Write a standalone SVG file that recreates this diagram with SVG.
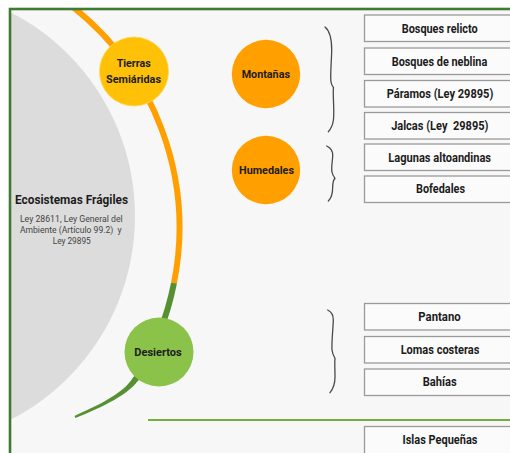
<svg xmlns="http://www.w3.org/2000/svg" width="510" height="453" viewBox="0 0 510 453">
  <style>
    .lbl { font-family: Roboto, "Liberation Sans", sans-serif; font-weight: bold; fill: #1c1c1c; text-anchor: middle; }
    .box rect { fill: #fbfbfb; stroke: #9a9a9a; stroke-width: 1.3; }
    .box text { font-family: Roboto, "Liberation Sans", sans-serif; font-weight: bold; font-size: 12px; fill: #1c1c1c; text-anchor: middle; }
    .sub { font-family: Roboto, "Liberation Sans", sans-serif; font-size: 8.6px; fill: #444; text-anchor: middle; }
    .brace { fill: none; stroke: #4a4a4a; stroke-width: 1.3; stroke-linecap: round; }
  </style>
  <defs>
    <clipPath id="inside"><rect x="10" y="9" width="520" height="470"/></clipPath>
  </defs>
  <rect x="0" y="0" width="510" height="453" fill="#ffffff"/>
  <rect x="10" y="9" width="520" height="470" fill="#f7f7f7"/>

  <g id="ecosistemas">
    <circle cx="-94" cy="216" r="229" fill="#dcdcdc" clip-path="url(#inside)"/>
    <text class="lbl" x="71.5" y="204.3" font-size="13" textLength="113" lengthAdjust="spacingAndGlyphs">Ecosistemas Frágiles</text>
    <text class="sub" x="71.3" y="221.5" textLength="102.7" lengthAdjust="spacingAndGlyphs">Ley 28611, Ley General del</text>
    <text class="sub" x="70.8" y="232.5" textLength="101.7" lengthAdjust="spacingAndGlyphs" xml:space="preserve">Ambiente (Artículo 99.2)  y</text>
    <text class="sub" x="71.7" y="243.5" textLength="38" lengthAdjust="spacingAndGlyphs">Ley 29895</text>
  </g>

  <g id="connectors">
    <path d="M70.5 5 A282.6 282.6 0 0 1 174 283" fill="none" stroke="#ffa000" stroke-width="6" clip-path="url(#inside)"/>
    <path d="M174 283 A282.6 282.6 0 0 1 135.2 380" fill="none" stroke="#559130" stroke-width="6"/>
    <path d="M138.1 380.3 C126.9 397.2 93.6 410.4 75.5 418.1 L74.5 415.9 C92.4 407.6 123.1 394.8 133.2 377.2 Z" fill="#559130"/>
    <path class="brace" d="M325 27 C330 31 331.7 40 331.7 50 C331.5 62 330 76 331 82 C331.5 85 332.5 86.5 333.5 87.5 C333 91 333.3 96 333.6 104 C334 116 334.5 125 328.3 131.7"/>
    <path class="brace" d="M326.7 146 C331 148 333 151 332.7 156 C332.4 162 331 168 332 172 C332.5 175 334 177 335 178.3 C333.5 180 332.7 183 332.7 187 C332.7 193 331.5 198 328.3 201"/>
    <path class="brace" d="M327.7 310 C332 312 333.3 315 333.3 320 C333 330 331.5 342 332 350 C332.5 354 334 356.5 335 358.3 C334.5 362 335 369 335 377 C335 384 333 389 330 392.7"/>
    <line x1="148" y1="420" x2="510" y2="420" stroke="#74ad40" stroke-width="2"/>
  </g>

  <rect id="frame" x="10" y="9" width="520" height="470" fill="none" stroke="#3f7a32" stroke-width="2.6"/>

  <g id="tierras">
    <circle cx="134" cy="71.5" r="34.5" fill="#ffc107" stroke="#ffd54f" stroke-width="0.8"/>
    <text class="lbl" x="133.7" y="67" font-size="11.5" textLength="34" lengthAdjust="spacingAndGlyphs">Tierras</text>
    <text class="lbl" x="133.5" y="82.5" font-size="11.5" textLength="55" lengthAdjust="spacingAndGlyphs">Semiáridas</text>
  </g>
  <g id="montanas">
    <circle cx="266" cy="74" r="34.2" fill="#ffa000"/>
    <text class="lbl" x="265.8" y="78.3" font-size="11.5" textLength="48.3" lengthAdjust="spacingAndGlyphs">Montañas</text>
  </g>
  <g id="humedales">
    <circle cx="266" cy="170" r="34.2" fill="#ffa000"/>
    <text class="lbl" x="266.5" y="173.5" font-size="11.5" textLength="55" lengthAdjust="spacingAndGlyphs">Humedales</text>
  </g>
  <g id="desiertos">
    <circle cx="159" cy="352" r="34.5" fill="#8bc34a"/>
    <text class="lbl" x="158" y="356" font-size="11.5" textLength="47.4" lengthAdjust="spacingAndGlyphs">Desiertos</text>
  </g>

  <g id="box-bosques-relicto" class="box"><rect x="364.5" y="15" width="160" height="26.5"/><text x="439.7" y="32.5" textLength="76" lengthAdjust="spacingAndGlyphs">Bosques relicto</text></g>
  <g id="box-bosques-neblina" class="box"><rect x="364.5" y="48" width="160" height="26.5"/><text x="439.5" y="65.5" textLength="95.6" lengthAdjust="spacingAndGlyphs">Bosques de neblina</text></g>
  <g id="box-paramos" class="box"><rect x="364.5" y="80.5" width="160" height="26.5"/><text x="440" y="98.3" textLength="106.7" lengthAdjust="spacingAndGlyphs">Páramos (Ley 29895)</text></g>
  <g id="box-jalcas" class="box"><rect x="364.5" y="112.5" width="160" height="26.5"/><text x="439.8" y="130" textLength="97.3" lengthAdjust="spacingAndGlyphs" xml:space="preserve">Jalcas (Ley  29895)</text></g>
  <g id="box-lagunas" class="box"><rect x="364.5" y="144" width="160" height="26.5"/><text x="439.7" y="161.8" textLength="102.7" lengthAdjust="spacingAndGlyphs">Lagunas altoandinas</text></g>
  <g id="box-bofedales" class="box"><rect x="364.5" y="176" width="160" height="26.5"/><text x="440.5" y="193" textLength="49" lengthAdjust="spacingAndGlyphs">Bofedales</text></g>
  <g id="box-pantano" class="box"><rect x="364.5" y="303.5" width="160" height="26.5"/><text x="439.5" y="320.8" textLength="42.3" lengthAdjust="spacingAndGlyphs">Pantano</text></g>
  <g id="box-lomas" class="box"><rect x="364.5" y="336.5" width="160" height="26.5"/><text x="440" y="354.2" textLength="78.7" lengthAdjust="spacingAndGlyphs">Lomas costeras</text></g>
  <g id="box-bahias" class="box"><rect x="364.5" y="369" width="160" height="26.5"/><text x="439.7" y="386" textLength="34" lengthAdjust="spacingAndGlyphs">Bahías</text></g>
  <g id="box-islas" class="box"><rect x="364.5" y="426.5" width="160" height="30"/><text x="440" y="444.3" textLength="75" lengthAdjust="spacingAndGlyphs">Islas Pequeñas</text></g>
</svg>
